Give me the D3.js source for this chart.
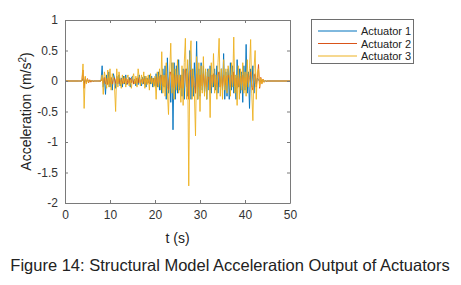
<!DOCTYPE html>
<html>
<head>
<meta charset="utf-8">
<script src="https://cdn.jsdelivr.net/npm/d3@7"></script>
<style>
  body { margin: 0; background: #fff; }
  svg text { font-family: "Liberation Sans", Arial, sans-serif; }
</style>
</head>
<body>
<div id="chart"></div>
<script>
// sample grid: 3 s to 46 s every 0.25 s, plus the flat ends at 0 and 50 s
var tStart = 3, tStep = 0.25;
var seriesNames = ["Actuator 1", "Actuator 2", "Actuator 3"];
var seriesColors = ["#0072BD", "#D95319", "#EDB120"];
var xTicks = [0, 10, 20, 30, 40, 50];
var yTicks = [1, 0.5, 0, -0.5, -1, -1.5, -2];

// one row per second (4 samples)
var actuator1 = [
  0, 0, 0, 0,
  0.04, -0.04, 0.02, -0.01,
  0.01, 0, 0, 0,
  0, 0, 0, 0,
  0, 0, 0, 0,
  0, 0.25, -0.1, 0.05,
  -0.22, 0.1, -0.05, 0.15,
  -0.1, 0.05, -0.15, 0.12,
  0.05, -0.12, 0.08, -0.05,
  0.1, -0.08, 0.05, -0.1,
  0.08, -0.05, 0.1, -0.06,
  -0.03, 0.06, -0.1, 0.05,
  0.08, -0.05, 0.03, -0.08,
  0.05, -0.06, 0.1, -0.04,
  -0.08, 0.06, -0.05, 0.08,
  -0.1, 0.05, -0.03, 0.1,
  -0.05, 0.08, -0.1, 0.05,
  -0.08, 0.12, -0.1, 0.15,
  -0.15, 0.1, -0.2, 0.2,
  -0.1, 0.25, -0.3, 0.38,
  -0.2, 0.15, -0.35, 0.3,
  -0.8, 0.3, -0.3, 0.25,
  -0.2, 0.35, -0.15, 0.1,
  -0.25, 0.2, -0.3, 0.15,
  0.2, -0.25, 0.1, 0.5,
  -0.3, 0.2, -0.25, 0.3,
  -0.2, 0.65, -0.3, 0.2,
  -0.25, 0.3, -0.15, 0.25,
  -0.2, 0.15, -0.3, 0.2,
  -0.15, 0.25, -0.2, 0.1,
  -0.1, 0.2, -0.15, 0.25,
  -0.2, 0.15, -0.1, 0.2,
  -0.15, 0.45, -0.3, 0.15,
  -0.25, 0.2, -0.3, 0.3,
  -0.15, 0.25, -0.2, 0.1,
  -0.3, 0.35, -0.1, 0.2,
  -0.2, 0.15, -0.35, 0.25,
  -0.15, 0.6, -0.2, 0.15,
  -0.45, 0.2, -0.1, 0.25,
  -0.2, 0.1, -0.05, 0.05,
  0.02, -0.01, 0, 0,
  0, 0, 0, 0,
  0, 0, 0, 0,
  0
];

var actuator2 = [
  0, 0, 0, 0,
  0.18, -0.12, 0.06, -0.03,
  0.04, -0.03, 0.02, -0.02,
  0.01, -0.01, 0, 0,
  0, 0, 0, 0,
  0, 0.05, -0.04, 0.06,
  -0.05, 0.04, -0.06, 0.05,
  -0.04, 0.06, -0.05, 0.03,
  0.05, -0.04, 0.06, -0.03,
  0.04, -0.05, 0.03, -0.04,
  0.05, -0.03, 0.04, -0.05,
  0.03, -0.04, 0.05, -0.03,
  0.04, -0.05, 0.03, -0.04,
  0.05, -0.03, 0.06, -0.04,
  0.03, -0.05, 0.04, -0.06,
  0.05, -0.04, 0.03, -0.05,
  0.06, -0.03, 0.04, -0.05,
  0.05, -0.08, 0.06, -0.07,
  0.08, -0.06, 0.1, -0.08,
  0.07, -0.1, 0.12, -0.09,
  -0.15, 0.1, 0.15, -0.1,
  0.12, -0.12, 0.1, -0.08,
  0.1, -0.1, 0.06, -0.12,
  0.1, -0.12, 0.15, 0.2,
  -0.1, 0.12, -0.3, 0.15,
  0.18, -0.1, 0.08, -0.08,
  -0.2, 0.12, -0.1, 0.1,
  -0.12, 0.1, -0.08, 0.12,
  -0.1, 0.08, -0.1, 0.06,
  0.06, -0.15, 0.1, -0.05,
  0.12, -0.08, 0.05, -0.1,
  0.1, 0.15, -0.1, 0.08,
  -0.1, 0.1, -0.06, 0.08,
  -0.08, 0.1, 0.05, -0.1,
  0.1, -0.05, 0.15, -0.08,
  0.05, -0.12, 0.08, -0.1,
  0.08, -0.06, 0.1, -0.08,
  0.06, -0.1, 0.12, -0.05,
  0.06, 0.15, -0.08, -0.15,
  0.08, 0.12, -0.1, 0.06,
  0.27, -0.12, 0.06, -0.04,
  0.03, -0.02, 0.01, -0.01,
  0, 0, 0, 0,
  0
];

var actuator3 = [
  0, 0, 0, 0,
  0.28, -0.45, 0.08, -0.05,
  0.03, -0.02, 0.01, 0,
  0, 0, 0, 0,
  0, 0, 0, 0,
  0, 0.1, -0.22, 0.15,
  0.05, -0.12, 0.18, -0.1,
  0.2, -0.15, 0.12, 0.05,
  -0.08, -0.5, 0.2, -0.1,
  0.15, 0.02, -0.12, 0.1,
  -0.05, 0.08, -0.1, 0.05,
  0.1, -0.08, 0.02, -0.12,
  0.05, 0.12, -0.05, 0.08,
  -0.1, 0.2, 0.05, -0.08,
  0.1, -0.05, 0.15, -0.12,
  0.08, -0.06, 0.1, -0.15,
  0.12, -0.05, 0.05, -0.1,
  0.08, -0.3, 0.15, -0.1,
  0.2, -0.15, 0.48, -0.2,
  0.1, -0.25, 0.3, -0.18,
  -0.55, 0.15, 0.62, -0.2,
  0.3, -0.3, 0.2, -0.15,
  0.35, -0.2, 0.1, -0.35,
  0.25, -0.4, 0.3, 0.7,
  -0.3, 0.35, -1.72, 0.4,
  0.66, -0.3, 0.2, -0.2,
  -0.9, 0.4, -0.3, 0.3,
  -0.5, 0.25, -0.2, 0.4,
  -0.25, 0.2, -0.3, 0.15,
  0.2, -0.6, 0.3, -0.1,
  0.45, -0.2, 0.1, -0.3,
  0.3, 0.7, -0.25, 0.2,
  -0.3, 0.35, -0.15, 0.2,
  -0.2, 0.25, 0.1, -0.25,
  0.3, -0.1, 0.72, -0.2,
  0.1, -0.4, 0.25, -0.3,
  0.2, -0.15, 0.3, -0.2,
  0.15, -0.25, 0.35, -0.1,
  0.2, 0.68, -0.2, -0.65,
  0.2, 0.5, -0.3, 0.15,
  0.2, -0.1, 0.05, -0.05,
  0.03, -0.02, 0.01, 0,
  0, 0, 0, 0,
  0
];

function init() {
    var w = 461;
    var h = 285;
    var left = 65, right = 290, top = 20, bottom = 203;

    var svg = d3.select("#chart")
        .append("svg")
        .attr("width", w)
        .attr("height", h);

    var xScale = d3.scaleLinear()
        .domain([0, 50])
        .range([left, right]);

    var yScale = d3.scaleLinear()
        .domain([-2, 1])
        .range([bottom, top]);

    // build the point lists, flat 0 at both ends
    var allSeries = [actuator1, actuator2, actuator3].map(function(vals) {
        var pts = [[0, 0]];
        vals.forEach(function(v, i) {
            pts.push([tStart + i * tStep, v]);
        });
        pts.push([50, 0]);
        return pts;
    });

    var line = d3.line()
        .x(function(d) { return xScale(d[0]); })
        .y(function(d) { return yScale(d[1]); });

    svg.selectAll(".series")
        .data(allSeries)
        .enter()
        .append("path")
        .attr("class", "series")
        .attr("d", line)
        .attr("fill", "none")
        .attr("stroke", function(d, i) { return seriesColors[i]; })
        .attr("stroke-width", 0.9)
        .attr("stroke-linejoin", "round");

    // axes with inward ticks, like matlab
    var axisColor = "#7a7a7a";
    var xAxis = d3.axisBottom(xScale).tickValues(xTicks).tickSizeInner(-3).tickSizeOuter(0).tickPadding(7);
    var yAxis = d3.axisLeft(yScale).tickValues(yTicks).tickSizeInner(-3).tickSizeOuter(0).tickPadding(7)
        .tickFormat(function(d) { return d; });

    svg.append("g")
        .attr("transform", "translate(0," + bottom + ")")
        .call(xAxis);
    svg.append("g")
        .attr("transform", "translate(" + left + ",0)")
        .call(yAxis);
    svg.append("g")
        .attr("transform", "translate(0," + top + ")")
        .call(d3.axisTop(xScale).tickValues(xTicks).tickSizeInner(-3).tickSizeOuter(0).tickFormat(""));
    svg.append("g")
        .attr("transform", "translate(" + right + ",0)")
        .call(d3.axisRight(yScale).tickValues(yTicks).tickSizeInner(-3).tickSizeOuter(0).tickFormat(""));

    svg.selectAll(".domain, .tick line").attr("stroke", axisColor);
    svg.selectAll(".tick text")
        .attr("fill", "#333")
        .style("font-size", "12px");

    svg.append("text")
        .attr("x", (left + right) / 2)
        .attr("y", 243)
        .attr("text-anchor", "middle")
        .attr("fill", "#222")
        .style("font-size", "14px")
        .text("t (s)");

    var ylab = svg.append("text")
        .attr("transform", "translate(31," + ((top + bottom) / 2) + ") rotate(-90)")
        .attr("text-anchor", "middle")
        .attr("fill", "#222")
        .style("font-size", "14px");
    ylab.append("tspan").text("Acceleration (m/s");
    ylab.append("tspan").attr("dy", -5).style("font-size", "10px").text("2");
    ylab.append("tspan").attr("dy", 5).text(")");

    // legend
    var legend = svg.append("g");
    legend.append("rect")
        .attr("x", 311.5).attr("y", 19.5)
        .attr("width", 102).attr("height", 44)
        .attr("fill", "#fff")
        .attr("stroke", "#6e6e6e");

    var rows = legend.selectAll(".leg")
        .data(seriesNames)
        .enter()
        .append("g")
        .attr("class", "leg")
        .attr("transform", function(d, i) { return "translate(0," + (31 + i * 12.5) + ")"; });
    rows.append("line")
        .attr("x1", 318).attr("x2", 357)
        .attr("stroke", function(d, i) { return seriesColors[i]; })
        .attr("stroke-width", 1);
    rows.append("text")
        .attr("x", 361).attr("y", 4)
        .attr("fill", "#222")
        .style("font-size", "11px")
        .text(function(d) { return d; });

    svg.append("text")
        .attr("x", 230)
        .attr("y", 271)
        .attr("text-anchor", "middle")
        .attr("fill", "#222")
        .style("font-size", "16.5px")
        .text("Figure 14: Structural Model Acceleration Output of Actuators");
}

window.onload = init;
</script>
</body>
</html>
